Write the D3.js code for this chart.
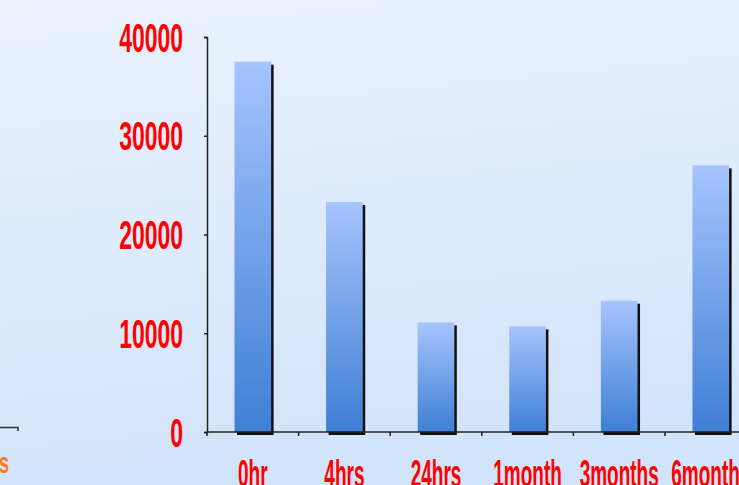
<!DOCTYPE html>
<html>
<head>
<meta charset="utf-8">
<script src="https://cdn.jsdelivr.net/npm/d3@7"></script>
<style>
  html, body { margin: 0; padding: 0; overflow: hidden; }
  svg { display: block; }
</style>
</head>
<body>
<svg id="vis"></svg>
<script>
// chart data
var categories = ["0hr", "4hrs", "24hrs", "1month", "3months", "6months"];
var values = [37500, 23300, 11100, 10700, 13300, 27000];
var yTicks = [0, 10000, 20000, 30000, 40000];

var w = 739;
var h = 485;

var svg = d3.select("#vis")
    .attr("width", w)
    .attr("height", h);

var defs = svg.append("defs");

var bg = defs.append("linearGradient")
    .attr("id", "bg")
    .attr("x1", 0).attr("y1", 0).attr("x2", 0.15).attr("y2", 1);
bg.append("stop").attr("offset", "0%").attr("stop-color", "#eaf2fe");
bg.append("stop").attr("offset", "100%").attr("stop-color", "#d2e4fa");

var barGrad = defs.append("linearGradient")
    .attr("id", "barGrad")
    .attr("x1", 0).attr("y1", 0).attr("x2", 0).attr("y2", 1);
barGrad.append("stop").attr("offset", "0%").attr("stop-color", "#a6c4fd");
barGrad.append("stop").attr("offset", "100%").attr("stop-color", "#3f7fd5");

svg.append("rect")
    .attr("width", w)
    .attr("height", h)
    .attr("fill", "url(#bg)");

// scales
var xScale = d3.scaleBand()
    .domain(categories)
    .range([207, 756.6])
    .paddingInner(0.6)
    .paddingOuter(0.3);

var yScale = d3.scaleLinear()
    .domain([0, 40000])
    .range([432, 37]);

// left edge leftovers of the neighbouring chart
svg.append("path")
    .attr("d", "M0,427.5H18V431")
    .attr("fill", "none")
    .attr("stroke", "#333")
    .attr("stroke-width", 1.5);
svg.append("g")
    .attr("transform", "translate(9,473) scale(0.6,1)")
    .append("text")
    .attr("text-anchor", "end")
    .attr("font-family", "Liberation Sans, Arial, sans-serif")
    .attr("font-weight", "bold")
    .attr("font-size", 30)
    .attr("fill", "#ff7a1a")
    .text("s");

// bars: shadow first, then the gradient bar
var bars = svg.append("g");
bars.selectAll("rect.shadow")
    .data(values)
    .enter()
    .append("rect")
    .attr("class", "shadow")
    .attr("x", function(d, i) { return xScale(categories[i]) + 2.5; })
    .attr("y", function(d) { return yScale(d) + 3; })
    .attr("width", xScale.bandwidth())
    .attr("height", function(d) { return yScale(0) - yScale(d); })
    .attr("fill", "#111");

bars.selectAll("rect.bar")
    .data(values)
    .enter()
    .append("rect")
    .attr("class", "bar")
    .attr("x", function(d, i) { return xScale(categories[i]); })
    .attr("y", function(d) { return yScale(d); })
    .attr("width", xScale.bandwidth())
    .attr("height", function(d) { return yScale(0) - yScale(d); })
    .attr("fill", "url(#barGrad)");

// y axis
var yAxis = svg.append("g")
    .attr("transform", "translate(207,0)")
    .call(d3.axisLeft(yScale).tickValues(yTicks).tickSize(3).tickFormat(""));
yAxis.selectAll("path, line").attr("stroke", "#222").attr("stroke-width", 1.5);

svg.append("g").selectAll("g")
    .data(yTicks)
    .enter()
    .append("g")
    .attr("transform", function(d) { return "translate(183," + (yScale(d) + 14.5) + ") scale(0.56,1)"; })
    .append("text")
    .attr("text-anchor", "end")
    .attr("font-family", "Liberation Sans, Arial, sans-serif")
    .attr("font-weight", "bold")
    .attr("font-size", 41)
    .attr("fill", "#ff0000")
    .text(function(d) { return d; });

// x axis, ticks sit on the band edges
var edge = (xScale.step() - xScale.bandwidth()) / 2;
svg.append("line")
    .attr("x1", 207).attr("x2", w)
    .attr("y1", yScale(0)).attr("y2", yScale(0))
    .attr("stroke", "#222")
    .attr("stroke-width", 1.5);
svg.append("g").selectAll("line")
    .data(categories)
    .enter()
    .append("line")
    .attr("x1", function(d) { return xScale(d) - edge; })
    .attr("x2", function(d) { return xScale(d) - edge; })
    .attr("y1", yScale(0))
    .attr("y2", yScale(0) + 4)
    .attr("stroke", "#222")
    .attr("stroke-width", 1.5);

svg.append("g").selectAll("g")
    .data(categories)
    .enter()
    .append("g")
    .attr("transform", function(d) { return "translate(" + (xScale(d) + xScale.bandwidth() / 2) + ",487) scale(0.5,1)"; })
    .append("text")
    .attr("text-anchor", "middle")
    .attr("font-family", "Liberation Sans, Arial, sans-serif")
    .attr("font-weight", "bold")
    .attr("font-size", 38)
    .attr("fill", "#ff0000")
    .text(function(d) { return d; });
</script>
</body>
</html>
